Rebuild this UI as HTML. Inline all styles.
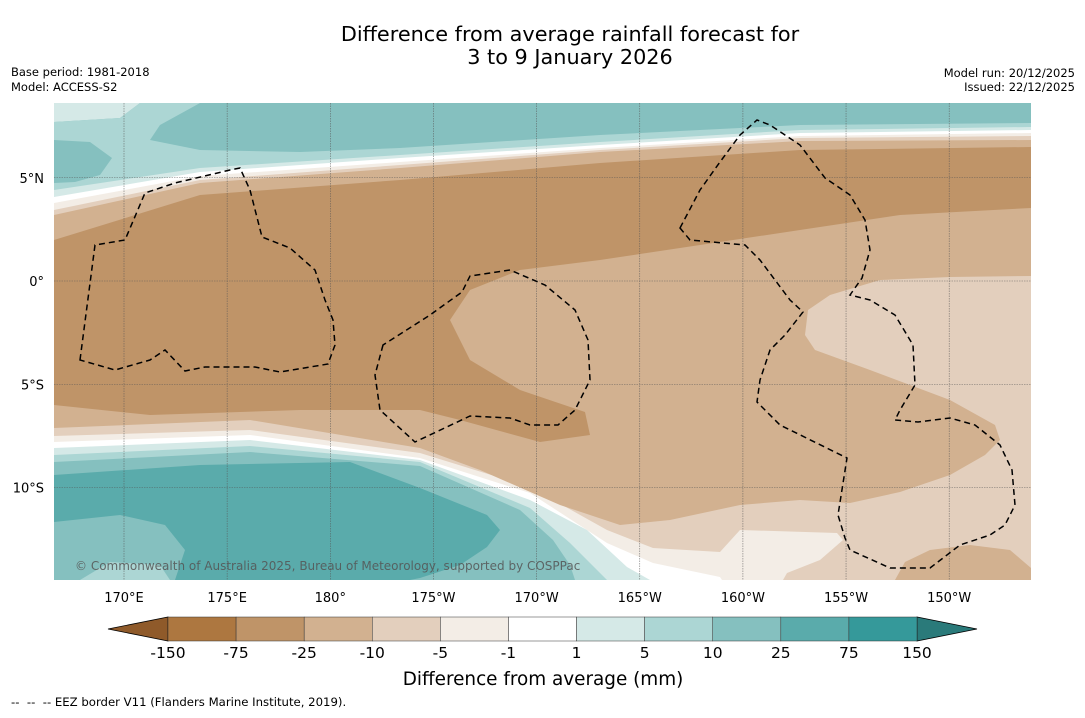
<!DOCTYPE html>
<html><head><meta charset="utf-8">
<style>
body{margin:0;background:#fff;width:1085px;height:713px;overflow:hidden;font-family:"Liberation Sans","DejaVu Sans",sans-serif;}
svg text{font-family:"DejaVu Sans","Liberation Sans",sans-serif;}
</style></head>
<body>
<svg id="fig" width="1085" height="713" viewBox="0 0 1085 713">
<text x="570" y="41" font-size="20.8" text-anchor="middle" fill="#000">Difference from average rainfall forecast for</text>
<text x="570" y="64" font-size="20.8" text-anchor="middle" fill="#000">3 to 9 January 2026</text>
<text x="11" y="76" font-size="11.5">Base period: 1981-2018</text>
<text x="11" y="91" font-size="11.5">Model: ACCESS-S2</text>
<text x="1075" y="77" font-size="11.5" text-anchor="end">Model run: 20/12/2025</text>
<text x="1075" y="91" font-size="11.5" text-anchor="end">Issued: 22/12/2025</text>

<defs><clipPath id="mc"><rect x="54" y="103" width="977" height="477"/></clipPath></defs>
<g clip-path="url(#mc)">
<rect x="54" y="103" width="977" height="477" fill="#85c0bf"/>
<path d="M54,103 L140,103 L120,118 L54,122Z" fill="#d5e9e7"/>
<path d="M54,122 L120,118 L140,103 L200,103 L160,125 L150,140 L200,150 L300,152 L400,148 L600,135 L800,125 L1031,123 L1031,200 L54,200Z" fill="#acd6d4"/>
<path d="M54,140 L90,142 L112,158 L100,175 L75,182 L54,183Z" fill="#85c0bf"/>
<path d="M54,190 L200,168 L400,155 L600,142 L800,130 L1031,127 L1031,580 L54,580Z" fill="#d5e9e7"/>
<path d="M54,197 L200,172 L400,158 L600,145 L800,133 L1031,130 L1031,580 L54,580Z" fill="#ffffff"/>
<path d="M54,203 L200,176 L400,162 L600,148 L800,136 L1031,133 L1031,580 L54,580Z" fill="#f3ede6"/>
<path d="M54,210 L200,180 L400,165 L600,150 L800,138 L1031,136 L1031,580 L54,580Z" fill="#e3cfbd"/>
<!-- lower bands overlay -->
<path d="M54,436 L250,430 L420,453 L530,487 L607,530 L653,548 L720,552 L740,530 L837,533 L843,540 L820,560 L787,573 L783,580 L54,580Z" fill="#f3ede6"/>
<path d="M54,442 L250,435 L420,458 L530,493 L607,543 L653,563 L720,577 L722,580 L54,580Z" fill="#ffffff"/>
<path d="M54,448 L250,440 L420,460 L530,500 L587,530 L627,567 L650,580 L54,580Z" fill="#d5e9e7"/>
<path d="M54,455 L250,446 L420,462 L530,508 L570,543 L607,580 L54,580Z" fill="#acd6d4"/>
<path d="M54,462 L250,452 L420,466 L520,510 L553,540 L570,565 L575,580 L54,580Z" fill="#85c0bf"/>
<path d="M54,475 L200,465 L350,462 L420,488 L487,515 L500,530 L487,547 L460,565 L420,578 L410,580 L54,580Z" fill="#5aabab"/>
<path d="M54,522 L120,515 L165,525 L185,550 L175,580 L54,580Z" fill="#85c0bf"/>
<path d="M80,580 L110,562 L160,565 L170,580Z" fill="#acd6d4"/>
<!-- tan -->
<path d="M54,215 L200,183 L400,168 L600,152 L800,141 L1031,140 L1031,276 L950,277 L880,280 L830,295 L808,310 L805,335 L815,350 L870,370 L950,400 L995,425 L1000,440 L985,455 L950,475 L900,492 L850,503 L800,500 L740,505 L670,520 L620,525 L560,505 L480,470 L420,448 L250,420 L54,428Z" fill="#d2b190"/>
<path d="M895,580 L905,562 L930,550 L970,545 L1010,550 L1031,568 L1031,580Z" fill="#d2b190"/>
<path d="M54,240 L200,195 L400,180 L600,163 L800,150 L1031,147 L1031,208 L900,215 L800,230 L700,245 L600,260 L520,270 L470,290 L450,320 L470,360 L520,390 L585,412 L590,435 L540,442 L460,420 L420,410 L300,410 L150,415 L54,405Z" fill="#bf9468"/>
</g>
<g id="grid" stroke="#555" stroke-width="0.6" stroke-dasharray="1.5,1" opacity="0.8"></g>
<g fill="none" stroke="#000" stroke-width="1.5" stroke-dasharray="6,4">
<path d="M80,360 L95,245 L125,240 L145,193 L175,183 L230,170 L240,168 L250,190 L262,237 L290,248 L315,270 L325,300 L333,320 L335,345 L328,364 L280,372 L255,367 L205,367 L185,371 L165,350 L150,360 L115,370 Z"/>
<path d="M383,345 L375,375 L380,410 L415,442 L470,416 L510,418 L530,425 L558,425 L575,410 L590,380 L588,340 L575,310 L545,285 L510,270 L470,276 L462,292 L430,315 Z"/>
<path d="M680,228 L700,190 L720,162 L740,135 L757,120 L770,125 L800,145 L825,178 L850,195 L865,220 L870,250 L862,278 L850,295 L870,300 L895,315 L913,345 L915,385 L900,410 L895,420 L918,422 L950,418 L975,425 L1000,445 L1012,470 L1015,505 L1005,525 L990,535 L960,545 L930,568 L890,568 L850,550 L845,538 L838,515 L847,458 L780,425 L757,402 L760,380 L770,350 L785,335 L803,312 L790,300 L775,280 L760,260 L745,245 L690,240 Z"/>
</g>
<text x="75" y="570" font-size="12" fill="#555" opacity="0.85">© Commonwealth of Australia 2025, Bureau of Meteorology, supported by COSPPac</text>
<g id="lonlabels"></g>
<g id="latlabels"></g>
<g id="cbar"></g>
<text x="543" y="685" font-size="18.4" text-anchor="middle">Difference from average (mm)</text>
<text x="11" y="706" font-size="11.7" xml:space="preserve" style="white-space:pre">--  --  -- EEZ border V11 (Flanders Marine Institute, 2019).</text>
</svg>
<script>
const lonLabels=["170°E","175°E","180°","175°W","170°W","165°W","160°W","155°W","150°W"];
const lonValues=[170,175,180,185,190,195,200,205,210];
const latLabels=["5°N","0°","5°S","10°S"];
const latValues=[5,0,-5,-10];
const cbTicks=["-150","-75","-25","-10","-5","-1","1","5","10","25","75","150"];
const cbColors=["#ad7740","#bf9468","#d2b190","#e3cfbd","#f3ede6","#ffffff","#d5e9e7","#acd6d4","#85c0bf","#5aabab","#35999a"];
const NS="http://www.w3.org/2000/svg";
const xLon=v=>124+(v-170)*20.63;
const yLat=v=>281-v*20.65;
const grid=document.getElementById('grid');
lonValues.forEach((v,i)=>{
 const l=document.createElementNS(NS,'line');
 
 
 l.setAttribute('x1',xLon(v));l.setAttribute('x2',xLon(v));l.setAttribute('y1',103);l.setAttribute('y2',580);
 grid.appendChild(l);
 const t=document.createElementNS(NS,'text');
 
 
 t.setAttribute('x',xLon(v));t.setAttribute('y',602);t.setAttribute('font-size','13');t.setAttribute('text-anchor','middle');
 t.textContent=lonLabels[i];
 document.getElementById('lonlabels').appendChild(t);
});
latValues.forEach((v,i)=>{
 const l=document.createElementNS(NS,'line');
 
 
 l.setAttribute('x1',54);l.setAttribute('x2',1031);l.setAttribute('y1',yLat(v));l.setAttribute('y2',yLat(v));
 grid.appendChild(l);
 const t=document.createElementNS(NS,'text');
 
 
 t.setAttribute('x',44);t.setAttribute('y',yLat(v)+5);t.setAttribute('font-size','13');t.setAttribute('text-anchor','end');
 t.textContent=latLabels[i];
 document.getElementById('latlabels').appendChild(t);
});
const cb=document.getElementById('cbar');
const x0=168,x1=917,cy0=617,cy1=641,w=(x1-x0)/cbColors.length;
const la=document.createElementNS(NS,'polygon');


la.setAttribute('points',`${x0},${cy0} ${x0},${cy1} 108,629`);la.setAttribute('fill','#8f5a2a');la.setAttribute('stroke','#000');la.setAttribute('stroke-width','0.8');
cb.appendChild(la);
const ra=document.createElementNS(NS,'polygon');


ra.setAttribute('points',`${x1},${cy0} ${x1},${cy1} 977,629`);ra.setAttribute('fill','#2a7a7a');ra.setAttribute('stroke','#000');ra.setAttribute('stroke-width','0.8');
cb.appendChild(ra);
cbColors.forEach((c,i)=>{
 const r=document.createElementNS(NS,'rect');
 
 
 r.setAttribute('x',x0+i*w);r.setAttribute('y',cy0);r.setAttribute('width',w);r.setAttribute('height',cy1-cy0);
 r.setAttribute('fill',c);r.setAttribute('stroke','#333');r.setAttribute('stroke-width','0.5');
 cb.appendChild(r);
});
cbTicks.forEach((s,i)=>{
 const t=document.createElementNS(NS,'text');
 
 
 t.setAttribute('x',x0+i*w);t.setAttribute('y',658);t.setAttribute('font-size','15.5');t.setAttribute('text-anchor','middle');
 t.textContent=s;
 cb.appendChild(t);
});
</script>
</body></html>
